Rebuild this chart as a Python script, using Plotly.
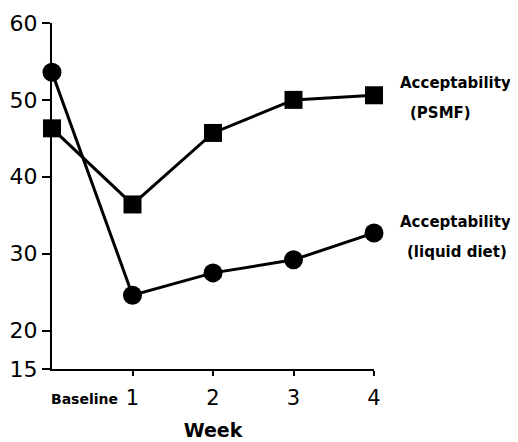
import plotly.graph_objects as go

week_labels = ["Baseline", "1", "2", "3", "4"]
week_pos = [0, 1, 2, 3, 4]
psmf = [46.3, 36.4, 45.7, 50.0, 50.6]
liquid = [53.6, 24.6, 27.5, 29.2, 32.7]
y_ticks = [15, 20, 30, 40, 50, 60]

FONT = "DejaVu Sans"

fig = go.Figure()
fig.add_trace(go.Scatter(x=week_pos, y=psmf, mode="lines+markers",
                         line=dict(color="black", width=3),
                         marker=dict(symbol="square", size=18, color="black"),
                         cliponaxis=False, showlegend=False))
fig.add_trace(go.Scatter(x=week_pos, y=liquid, mode="lines+markers",
                         line=dict(color="black", width=3),
                         marker=dict(symbol="circle", size=19, color="black"),
                         cliponaxis=False, showlegend=False))

fig.update_layout(
    template="none",
    width=510, height=434,
    margin=dict(l=44, r=144, t=15, b=73, autoexpand=False),
    paper_bgcolor="white", plot_bgcolor="white",
    font=dict(family=FONT, color="black"),
    xaxis=dict(range=[0, 4], tickvals=week_pos[1:], ticktext=week_labels[1:],
               automargin=False,
               showgrid=False, zeroline=False, showline=True, linecolor="black",
               linewidth=2, ticks="outside", ticklen=5, tickwidth=2, tickcolor="black",
               ticklabelstandoff=4,
               tickfont=dict(size=21, family=FONT),
               title=dict(text="<b>Week</b>", font=dict(size=19, family=FONT), standoff=14)),
    yaxis=dict(range=[15, 60], tickvals=y_ticks, ticktext=[str(v) for v in y_ticks],
               automargin=False,
               showgrid=False, zeroline=False, showline=True, linecolor="black",
               linewidth=2, ticks="outside", ticklen=8, tickwidth=2, tickcolor="black",
               tickfont=dict(size=22, family=FONT)),
)

fig.add_annotation(x=0, y=0, xref="x", yref="paper", yshift=-30, xanchor="center",
                   xshift=32, yanchor="middle", text="<b>" + week_labels[0] + "</b>",
                   showarrow=False, font=dict(size=14, family=FONT))

labels = [("<b>Acceptability</b>", psmf[-1], 12, 81), ("<b>(PSMF)</b>", psmf[-1], -18, 66),
          ("<b>Acceptability</b>", liquid[-1], 11, 81), ("<b>(liquid diet)</b>", liquid[-1], -19, 83)]
for txt, yv, ys, xs in labels:
    fig.add_annotation(x=1, xref="paper", y=yv, yref="y", xanchor="center", xshift=xs,
                       yshift=ys, yanchor="middle", text=txt, showarrow=False,
                       font=dict(size=15, family=FONT))

fig.write_html("out.html")
